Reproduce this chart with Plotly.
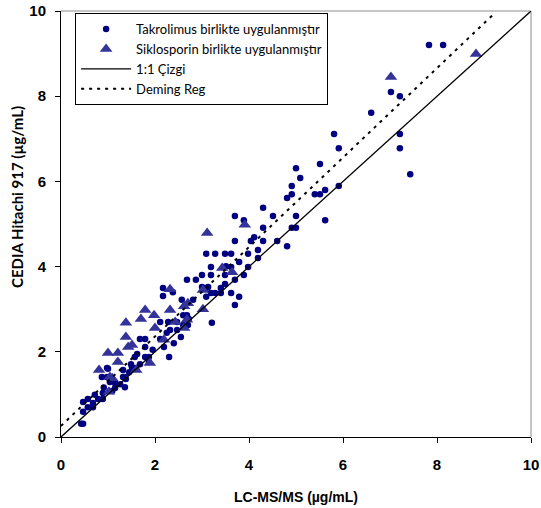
import plotly.graph_objects as go

# Tacrolimus co-administered (dots): LC-MS/MS vs CEDIA
tak_x = [7.83, 8.13, 7.02, 7.21, 6.60, 5.81, 7.21, 5.91, 7.21, 7.43, 5.91, 5.00, 5.09, 4.91, 4.91,
         4.81, 5.51, 5.40, 5.51, 5.62, 5.62, 4.30, 4.51, 5.00, 3.70, 3.89, 4.30, 4.91, 5.00, 4.11,
         3.70, 4.30, 4.60, 4.81, 4.19, 3.09, 3.28, 3.49, 3.62, 3.98, 4.19, 3.79, 3.19, 3.62, 3.98,
         3.00, 3.19, 3.49, 3.89, 3.70, 3.49, 3.40, 3.19, 3.28, 3.62, 3.09, 3.79, 3.70, 3.21, 2.68,
         2.87, 2.17, 2.17, 2.38, 2.81, 3.00, 3.13, 3.40, 2.68, 2.60, 2.72, 2.60, 2.70, 2.28, 2.11,
         2.32, 2.47, 1.68, 1.79, 1.79, 2.11, 2.19, 2.30, 1.79, 1.87, 1.57, 1.87, 1.51, 1.32, 1.60,
         0.98, 0.87, 0.98, 1.32, 1.36, 1.26, 1.15, 1.36, 1.09, 0.89, 0.72, 0.89, 0.57, 0.68, 0.79,
         0.47, 0.57, 0.68, 0.47, 0.43, 0.47, 1.49, 1.68, 1.00, 1.38, 1.15, 1.04, 0.91, 2.47, 2.57,
         3.09, 3.51, 4.04, 2.40, 2.55, 2.25, 1.95, 1.62, 1.45]
tak_y = [9.20, 9.20, 8.10, 8.00, 7.61, 7.11, 7.11, 6.78, 6.78, 6.17, 5.89, 6.31, 6.08, 5.89, 5.70,
         5.61, 6.41, 5.70, 5.70, 5.80, 5.09, 5.38, 5.19, 5.19, 5.19, 5.09, 4.91, 4.91, 4.91, 4.69,
         4.60, 4.60, 4.60, 4.48, 4.39, 4.30, 4.30, 4.30, 4.30, 4.30, 4.20, 4.11, 3.99, 3.99, 3.99,
         3.80, 3.80, 3.80, 3.80, 3.69, 3.59, 3.50, 3.38, 3.38, 3.38, 3.29, 3.29, 3.10, 2.68, 3.69,
         3.69, 3.50, 3.31, 3.40, 3.22, 3.52, 3.52, 3.38, 2.86, 2.86, 2.77, 2.63, 2.63, 2.70, 2.70,
         2.51, 2.51, 2.30, 2.30, 2.11, 2.30, 2.11, 1.88, 1.88, 1.88, 1.88, 1.76, 1.64, 1.57, 1.62,
         1.62, 1.41, 1.41, 1.41, 1.41, 1.24, 1.15, 1.17, 1.08, 1.03, 0.99, 0.89, 0.89, 0.80, 0.89,
         0.82, 0.70, 0.70, 0.59, 0.31, 0.31, 1.71, 1.71, 1.60, 1.36, 1.27, 1.29, 1.16, 2.70, 3.22,
         3.50, 4.01, 4.60, 2.20, 2.35, 2.45, 2.05, 1.95, 1.52]

# Cyclosporine co-administered (triangles)
sik_x = [8.83, 7.02, 3.91, 3.11, 3.43, 3.64, 3.02, 2.32, 3.02, 2.62, 2.70, 1.79, 1.98, 2.32, 1.70,
         2.43, 2.68, 2.62, 1.38, 2.00, 1.38, 2.19, 1.43, 1.51, 1.00, 1.21, 1.21, 1.89, 0.81, 1.04,
         1.09, 1.60, 1.02]
sik_y = [8.99, 8.45, 4.98, 4.79, 3.97, 3.87, 3.45, 3.47, 3.00, 3.07, 3.14, 2.98, 2.86, 2.98, 2.77,
         2.70, 2.75, 2.56, 2.68, 2.56, 2.35, 2.28, 2.11, 2.16, 1.97, 1.97, 1.76, 1.74, 1.57, 1.41,
         1.38, 1.57, 1.06]

line_x = [0, 10]
identity_y = [0, 10]
deming_intercept = 0.26
deming_slope = 1.05
deming_x = [0, 9.2]
deming_y = [deming_intercept + deming_slope * v for v in deming_x]

x_title = "LC-MS/MS (µg/mL)"
y_title = "CEDIA Hitachi 917 (µg/mL)"

axis_font = "Liberation Sans, Arial, sans-serif"
legend_font = "Lato, Roboto, sans-serif"

fig = go.Figure()
fig.add_trace(go.Scatter(x=tak_x, y=tak_y, mode="markers",
                         name="Takrolimus birlikte uygulanmıştır",
                         marker=dict(symbol="circle", size=6.5, color="#000080")))
fig.add_trace(go.Scatter(x=sik_x, y=sik_y, mode="markers",
                         name="Siklosporin birlikte uygulanmıştır",
                         marker=dict(symbol="triangle-up", size=11, color="#333399")))
fig.add_trace(go.Scatter(x=line_x, y=identity_y, mode="lines", name="1:1 Çizgi",
                         line=dict(color="black", width=1.3)))
fig.add_trace(go.Scatter(x=deming_x, y=deming_y, mode="lines", name="Deming Reg",
                         line=dict(color="black", width=2, dash="3px,5px")))

axis_common = dict(range=[0, 10], dtick=2, showgrid=False, zeroline=False,
                   showline=True, linecolor="black", linewidth=1,
                   ticks="outside", ticklen=5, tickcolor="black", automargin=False,
                   tickfont=dict(family=axis_font, size=15, color="black", weight="bold"))

fig.update_layout(
    width=541, height=508,
    margin=dict(l=61, r=10, t=11, b=71),
    plot_bgcolor="white", paper_bgcolor="white",
    font=dict(family=axis_font, color="black"),
    xaxis=dict(**axis_common, ticklabelstandoff=9,
               title=dict(text=x_title, font=dict(size=14, family=axis_font, weight="bold"), standoff=20)),
    yaxis=dict(**axis_common, ticklabelstandoff=6),
    legend=dict(x=0.03, y=0.995, xanchor="left", yanchor="top",
                bgcolor="white", bordercolor="black", borderwidth=1,
                font=dict(family=legend_font, size=13, color="black"),
                itemwidth=50, tracegroupgap=0),
    showlegend=True,
    shapes=[
        dict(type="line", xref="paper", yref="paper", x0=0, x1=1, y0=1, y1=1,
             line=dict(color="#8c8c8c", width=1), layer="below"),
        dict(type="line", xref="paper", yref="paper", x0=1, x1=1, y0=0, y1=1,
             line=dict(color="#8c8c8c", width=1), layer="below"),
    ],
    annotations=[
        dict(text=y_title, textangle=-90, xref="paper", yref="paper",
             x=(17 - 61) / 470, y=(437 - 197) / 426, xanchor="center", yanchor="middle",
             showarrow=False, font=dict(family=legend_font, size=15, color="black", weight="bold")),
    ],
)

fig.write_html("out.html", post_script="document.body.style.margin='0';",
               config={"displayModeBar": False})
